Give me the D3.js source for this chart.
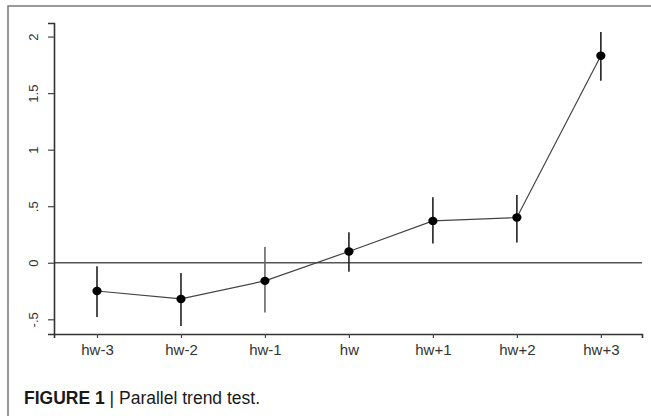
<!DOCTYPE html>
<html>
<head>
<meta charset="utf-8">
<script src="https://cdn.jsdelivr.net/npm/d3@7"></script>
<style>
  html, body { margin: 0; padding: 0; background: #fff; }
  svg { display: block; }
</style>
</head>
<body>
<svg id="chart" width="651" height="416"></svg>
<script>
const categories = ["hw-3", "hw-2", "hw-1", "hw", "hw+1", "hw+2", "hw+3"];
const estimates = [-0.25, -0.32, -0.16, 0.10, 0.37, 0.40, 1.83];
const ciLower = [-0.48, -0.56, -0.44, -0.08, 0.17, 0.18, 1.61];
const ciUpper = [-0.03, -0.09, 0.14, 0.27, 0.58, 0.60, 2.04];
const yTicks = [-0.5, 0, 0.5, 1, 1.5, 2];
const yTickLabels = ["-.5", "0", ".5", "1", "1.5", "2"];
const captionBold = "FIGURE 1";
const captionText = " | Parallel trend test.";

const svg = d3.select("#chart");
const font = "'Liberation Sans', Arial, Helvetica, sans-serif";

// outer frame (left and top)
svg.append("path")
  .attr("d", "M8,416 L8,6 L651,6")
  .attr("fill", "none").attr("stroke", "#7a7a7a").attr("stroke-width", 1.5);

const x = d3.scaleLinear().domain([-0.512, 6.49]).range([54, 642]);
const y = d3.scaleLinear().domain([-0.63, 2.12]).range([334, 23]);

// zero reference line
svg.append("line")
  .attr("x1", x.range()[0]).attr("x2", x.range()[1])
  .attr("y1", y(0)).attr("y2", y(0))
  .attr("stroke", "#555").attr("stroke-width", 1.6);

// y axis
const yAxis = svg.append("g")
  .attr("transform", `translate(${x.range()[0]},0)`)
  .call(d3.axisLeft(y).tickValues(yTicks).tickSizeOuter(0).tickSize(6).tickPadding(12)
    .tickFormat((d, i) => yTickLabels[i]));
yAxis.select(".domain").attr("stroke", "#333").attr("stroke-width", 1.6);
yAxis.selectAll(".tick line").attr("stroke", "#444").attr("stroke-width", 1.2);
yAxis.selectAll(".tick text")
  .attr("font-family", font).attr("font-size", 13).attr("fill", "#333")
  .attr("text-anchor", "middle").attr("dy", null)
  .attr("transform", function() {
    return "translate(-21,0) rotate(-90)";
  })
  .attr("x", 0).attr("y", 0).attr("dominant-baseline", "central");

// x axis
const xAxis = svg.append("g")
  .attr("transform", `translate(0,${y.range()[0]})`)
  .call(d3.axisBottom(x).tickValues(d3.range(categories.length)).tickSizeOuter(0).tickSize(4).tickPadding(6)
    .tickFormat(i => categories[i]));
xAxis.select(".domain").attr("stroke", "#333").attr("stroke-width", 1.6);
xAxis.selectAll(".tick line").attr("stroke", "#444").attr("stroke-width", 1.2);
xAxis.selectAll(".tick text")
  .attr("font-family", font).attr("font-size", 15).attr("fill", "#333");

const idx = d3.range(categories.length);

// confidence intervals
svg.append("g").selectAll("line").data(idx).join("line")
  .attr("x1", i => x(i)).attr("x2", i => x(i))
  .attr("y1", i => y(ciLower[i])).attr("y2", i => y(ciUpper[i]))
  .attr("stroke", (d, i) => i === 2 ? "#666" : "#222").attr("stroke-width", 1.6);

// connecting line
svg.append("path")
  .datum(idx)
  .attr("d", d3.line().x(i => x(i)).y(i => y(estimates[i])))
  .attr("fill", "none").attr("stroke", "#444").attr("stroke-width", 1.2);

// points
svg.append("g").selectAll("ellipse").data(idx).join("ellipse")
  .attr("cx", i => x(i)).attr("cy", i => y(estimates[i]))
  .attr("rx", 4.6).attr("ry", 4.2)
  .attr("fill", "#000");

// caption
const cap = svg.append("text")
  .attr("x", 24).attr("y", 404)
  .attr("font-family", font).attr("font-size", 17.5).attr("fill", "#1a1a1a");
cap.append("tspan").attr("font-weight", "bold").text(captionBold);
cap.append("tspan").text(captionText);
</script>
</body>
</html>
